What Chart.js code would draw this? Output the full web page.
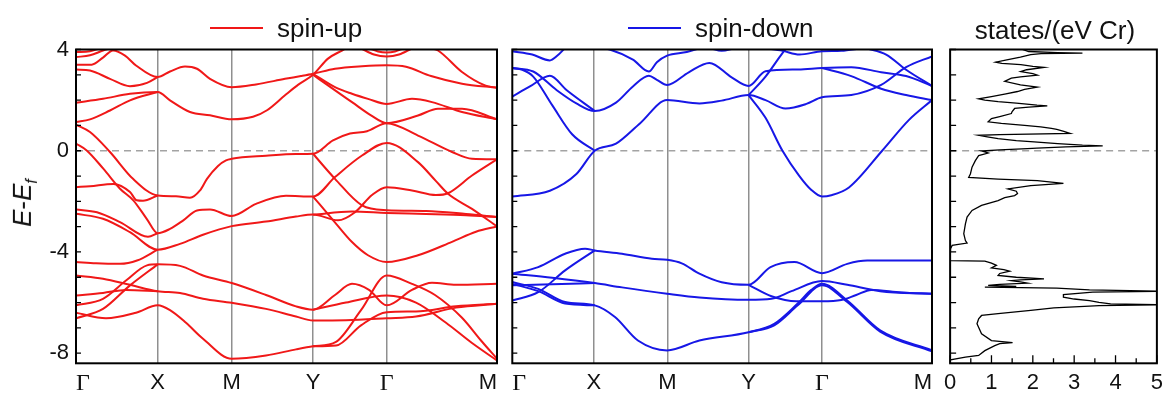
<!DOCTYPE html>
<html>
<head>
<meta charset="utf-8">
<script src="https://cdn.jsdelivr.net/npm/chart.js@4.4.1/dist/chart.umd.min.js"></script>
<style>
  body { margin: 0; background: #fff; width: 1169px; height: 395px; overflow: hidden; position: relative; font-family: 'Liberation Sans', Arial, sans-serif; color: #111; }
  canvas { position: absolute; top: 0; }
  .txt { position: absolute; white-space: nowrap; line-height: 1; font-size: 26px; }
  .key { position: absolute; height: 2px; width: 53px; }
  #ylab { position: absolute; left: 24px; top: 203px; transform: translate(-50%, -50%) rotate(-90deg); font-size: 26px; white-space: nowrap; }
  #ylab sub { font-size: 16px; font-style: italic; }
</style>
</head>
<body>
<canvas id="up" width="505" height="395" style="left:0px"></canvas>
<canvas id="down" width="433" height="395" style="left:505px"></canvas>
<canvas id="dos" width="231" height="395" style="left:938px"></canvas>

<div class="key" style="left:210px; top:27px; background:#f01818"></div>
<div class="txt" style="left:277px; top:15px">spin-up</div>
<div class="key" style="left:628px; top:27px; background:#1717e6"></div>
<div class="txt" style="left:695px; top:15px">spin-down</div>
<div class="txt" style="left:1055px; top:17px; transform:translateX(-50%)">states/(eV Cr)</div>
<div id="ylab"><i>E</i>-<i>E</i><sub>f</sub></div>

<script>
// k-path (distance along the path) and labels
const kTicks = [0, 0.817, 1.557, 2.37, 3.107, 4.21];
const kLabels = ['Γ', 'X', 'M', 'Y', 'Γ', 'M'];
const eMin = -8.4, eMax = 4;
const eLabelTicks = [-8, -4, 0, 4];
const dosTicks = [0, 1, 2, 3, 4, 5];

// spin-up bands, [k, E]
const upBands = [
  [[0,3.9],[0.14,3.93],[0.24,4.05]],
  [[0,3.7],[0.14,3.77],[0.27,3.96],[0.34,4.05]],
  [[0,3.4],[0.157,3.4],[0.27,3.68],[0.37,3.96],[0.49,3.76],[0.6,3.37],[0.817,2.91],[0.94,3.13],[1.09,3.33],[1.21,3.24],[1.34,2.84],[1.557,2.51],[1.8,2.62],[2.09,2.84],[2.25,2.95],[2.37,3.04],[2.59,3.24],[2.86,3.34],[3.107,3.38],[3.3,3.32],[3.55,2.95],[3.86,2.65],[4.21,2.49]],
  [[0,3.21],[0.14,3.17],[0.34,2.84],[0.54,2.55],[0.71,2.68],[0.817,2.91]],
  [[0,1.9],[0.27,2.05],[0.54,2.25],[0.817,2.32],[0.94,1.99],[1.14,1.53],[1.34,1.4],[1.557,1.24],[1.77,1.34],[1.91,1.6],[2.09,2.19],[2.22,2.6],[2.37,3.0],[2.52,3.64],[2.66,3.96],[2.72,4.1]],
  [[0,1.13],[0.14,1.24],[0.34,1.59],[0.54,1.99],[0.817,2.32]],
  [[2.37,3.04],[2.59,2.51],[2.76,2.25],[2.92,2.05],[3.107,1.85],[3.36,2.05],[3.56,1.92],[3.86,1.53],[4.21,1.24]],
  [[2.37,3.0],[2.52,2.58],[2.76,1.92],[2.95,1.4],[3.107,1.09],[3.42,1.39],[3.62,1.66],[3.86,1.66],[4.21,1.24]],
  [[2.85,4.05],[2.98,3.8],[3.107,3.72],[3.23,3.8],[3.36,4.05]],
  [[2.93,4.05],[3.02,3.92],[3.107,3.88],[3.19,3.92],[3.28,4.05]],
  [[3.55,4.05],[3.62,3.96],[3.86,3.11],[4.09,2.58],[4.21,2.49]],
  [[0,1.03],[0.14,0.74],[0.34,-0.05],[0.57,-1.11],[0.817,-1.77],[1.0,-1.8],[1.14,-1.86],[1.24,-1.57],[1.31,-1.11],[1.42,-0.6],[1.5,-0.38],[1.557,-0.32],[1.9,-0.2],[2.2,-0.13],[2.37,-0.12],[2.57,0.41],[2.74,0.68],[2.91,0.77],[3.107,1.09],[3.42,0.6],[3.76,-0.05],[3.96,-0.32],[4.21,-0.34]],
  [[0,0.28],[0.107,0.01],[0.273,-0.71],[0.44,-1.5],[0.573,-1.96],[0.707,-2.69],[0.817,-3.26],[0.94,-3.09],[1.07,-2.76],[1.21,-2.36],[1.34,-2.32],[1.557,-2.58],[1.8,-2.1],[2.1,-1.78],[2.37,-1.81],[2.59,-1.04],[2.86,-0.19],[3.107,0.31],[3.42,-0.45],[3.6,-1.2],[3.72,-1.7],[3.96,-2.3],[4.21,-2.99]],
  [[0,-1.44],[0.14,-1.4],[0.373,-1.31],[0.54,-1.63],[0.607,-1.96],[0.67,-1.98],[0.817,-1.77]],
  [[0,-2.32],[0.21,-2.43],[0.44,-2.82],[0.72,-3.4],[0.817,-3.26]],
  [[0,-2.49],[0.27,-2.69],[0.54,-3.22],[0.817,-3.91],[1.04,-3.68],[1.27,-3.32],[1.557,-2.98],[1.9,-2.8],[2.2,-2.6],[2.37,-2.52],[2.62,-2.75],[2.79,-2.43],[2.96,-1.75],[3.107,-1.44],[3.36,-1.57],[3.6,-1.75],[3.72,-1.68],[3.96,-0.98],[4.21,-0.34]],
  [[2.37,-0.12],[2.59,-1.11],[2.86,-2.16],[3.107,-2.35],[3.5,-2.38],[3.9,-2.5],[4.21,-2.62]],
  [[2.37,-2.53],[2.76,-2.4],[3.107,-2.46],[3.5,-2.5],[3.9,-2.55],[4.21,-2.62]],
  [[2.37,-1.81],[2.56,-2.69],[2.76,-3.61],[2.92,-4.13],[3.107,-4.4],[3.42,-4.13],[3.76,-3.6],[4.0,-3.2],[4.21,-2.99]],
  [[0,-4.4],[0.2,-4.45],[0.44,-4.47],[0.61,-4.34],[0.817,-3.91]],
  [[0,-4.93],[0.27,-5.06],[0.54,-5.3],[0.817,-5.55],[1.04,-5.62],[1.27,-5.85],[1.557,-6.01],[1.9,-6.25],[2.2,-6.55],[2.37,-6.71],[2.7,-6.7],[3.107,-6.62],[3.4,-6.55],[3.8,-6.2],[4.21,-6.05]],
  [[0,-5.72],[0.27,-5.62],[0.5,-5.5],[0.817,-5.55]],
  [[0,-6.11],[0.27,-5.85],[0.5,-5.13],[0.71,-4.53],[0.817,-4.49],[1.04,-4.55],[1.27,-4.93],[1.557,-5.23],[1.9,-5.7],[2.2,-6.15],[2.37,-6.28],[2.59,-5.7],[2.76,-5.26],[2.93,-5.5],[3.107,-6.11],[3.36,-5.5],[3.56,-5.22],[3.8,-5.3],[4.21,-5.26]],
  [[0,-6.62],[0.27,-6.25],[0.54,-5.32],[0.817,-4.49]],
  [[0,-6.4],[0.3,-6.62],[0.6,-6.4],[0.817,-6.11],[0.94,-6.3],[1.1,-6.8],[1.27,-7.43],[1.557,-8.22],[1.9,-8.09],[2.2,-7.85],[2.37,-7.73],[2.6,-7.55],[2.85,-6.3],[3.107,-4.93],[3.36,-5.26],[3.59,-5.7],[3.86,-6.6],[4.05,-7.5],[4.21,-8.22]],
  [[2.37,-6.28],[2.7,-6.0],[3.107,-5.72],[3.4,-6.0],[3.7,-6.8],[3.96,-7.6],[4.21,-8.29]],
  [[2.37,-7.73],[2.6,-7.7],[2.85,-6.9],[3.107,-6.38],[3.4,-6.35],[3.8,-6.15],[4.21,-6.05]]
];

// spin-down bands
const downBands = [
  [[0,-1.81],[0.377,-1.58],[0.643,-0.92],[0.827,0.0],[1.04,0.28],[1.28,1.08],[1.553,2.0],[1.877,1.87],[2.1,1.98],[2.37,2.2],[2.54,2.0],[2.74,1.67],[2.95,1.85],[3.107,2.11],[3.4,2.2],[3.7,2.6],[3.95,3.3],[4.21,3.73]],
  [[0,3.27],[0.1,3.2],[0.21,2.93],[0.4,1.8],[0.6,0.65],[0.827,0.0]],
  [[0,3.27],[0.21,3.13],[0.443,2.4],[0.643,1.87],[0.827,1.57],[1.04,1.9],[1.21,2.54],[1.37,2.96],[1.45,2.8],[1.553,2.6],[1.77,3.1],[1.977,3.47],[2.2,2.9],[2.37,2.56],[2.54,3.14],[2.87,3.21],[3.107,3.27],[3.4,3.3],[3.7,3.1],[3.95,2.95],[4.21,2.56]],
  [[0,2.14],[0.177,2.54],[0.377,2.96],[0.543,2.4],[0.827,1.57]],
  [[0,3.93],[0.2,3.8],[0.377,3.57],[0.45,3.75],[0.527,4.05]],
  [[0.9,4.05],[0.977,4.0],[1.21,3.6],[1.37,3.13],[1.45,3.5],[1.553,3.76],[1.75,3.9],[1.877,4.05]],
  [[1.99,4.05],[2.1,3.95],[2.23,4.05]],
  [[2.37,2.2],[2.54,2.93],[2.71,3.86],[2.76,4.1]],
  [[2.37,2.2],[2.54,1.3],[2.71,0.0],[2.88,-1.0],[3.0,-1.55],[3.107,-1.81],[3.2,-1.76],[3.377,-1.45],[3.71,0.0],[3.977,1.21],[4.21,2.0]],
  [[3.107,3.27],[3.4,2.95],[3.7,2.45],[3.95,2.2],[4.21,2.0]],
  [[3.55,4.05],[3.75,3.8],[3.95,3.2],[4.21,2.56]],
  [[2.54,4.05],[2.71,3.95],[2.88,3.8],[3.107,3.93],[3.3,3.95],[3.5,4.05]],
  [[0,-4.86],[0.26,-4.6],[0.53,-4.07],[0.73,-3.87],[0.827,-3.94],[1.1,-4.07],[1.4,-4.27],[1.553,-4.31],[1.7,-4.45],[1.877,-4.86],[2.1,-5.2],[2.37,-5.3],[2.59,-4.6],[2.83,-4.4],[3.107,-4.84],[3.36,-4.47],[3.56,-4.34],[4.21,-4.34]],
  [[0,-5.92],[0.26,-5.59],[0.53,-4.73],[0.827,-3.94]],
  [[0,-4.86],[0.4,-5.02],[0.827,-5.23],[1.1,-5.4],[1.553,-5.65],[1.877,-5.8],[2.37,-5.89],[2.6,-5.85],[2.8,-5.55],[3.107,-5.15],[3.36,-5.3],[3.69,-5.55],[4.21,-5.65]],
  [[2.37,-5.3],[2.6,-5.75],[2.85,-5.95],[3.107,-5.95],[3.3,-5.9],[3.45,-5.7],[3.6,-5.5],[3.9,-5.6],[4.21,-5.65]],
  [[0,-5.32],[0.4,-5.28],[0.827,-5.23]],
  [[0,-5.19],[0.26,-5.46],[0.53,-5.98],[0.827,-6.11],[1.03,-6.57],[1.26,-7.5],[1.553,-7.89],[1.877,-7.5],[2.37,-7.17],[2.627,-6.84],[2.86,-6.05],[3.0,-5.5],[3.107,-5.26],[3.36,-5.92],[3.69,-7.1],[4.21,-7.89]],
  [[0,-5.26],[0.26,-5.55],[0.53,-6.04],[0.827,-6.11]],
  [[2.37,-7.17],[2.627,-6.9],[2.86,-6.12],[3.107,-5.32],[3.36,-5.98],[3.69,-7.15],[4.21,-7.93]]
];

// density of states, E and states/(eV Cr)
const dosE = [4.0,3.92,3.88,3.86,3.84,3.8,3.7,3.6,3.5,3.45,3.4,3.33,3.29,3.2,3.13,3.05,2.99,2.92,2.87,2.74,2.6,2.51,2.42,2.34,2.25,2.14,2.05,2.0,1.94,1.88,1.85,1.8,1.77,1.72,1.67,1.55,1.47,1.35,1.27,1.14,1.08,1.0,0.94,0.88,0.84,0.76,0.68,0.64,0.61,0.55,0.48,0.4,0.35,0.28,0.22,0.19,0.15,0.1,0.08,0.03,-0.01,-0.09,-0.19,-0.39,-0.65,-0.92,-1.05,-1.12,-1.18,-1.29,-1.38,-1.51,-1.6,-1.69,-1.77,-1.85,-1.97,-2.16,-2.36,-2.62,-2.89,-3.28,-3.55,-3.65,-3.7,-3.74,-3.87,-4.0,-4.34,-4.36,-4.44,-4.53,-4.63,-4.7,-4.76,-4.85,-4.93,-5.0,-5.06,-5.1,-5.13,-5.18,-5.23,-5.28,-5.32,-5.36,-5.39,-5.43,-5.5,-5.55,-5.59,-5.69,-5.79,-5.86,-5.92,-5.99,-6.05,-6.09,-6.12,-6.15,-6.21,-6.31,-6.44,-6.51,-6.64,-6.84,-7.23,-7.5,-7.58,-7.62,-7.7,-7.9,-8.09,-8.16,-8.26,-8.4];
const dosVal = [1.75,1.9,2.6,3.2,2.2,1.95,1.7,1.4,1.1,1.25,1.71,2.0,2.27,1.85,1.71,2.0,2.11,1.7,1.48,1.32,1.7,2.11,1.8,1.63,1.35,1.0,0.69,0.84,1.16,1.6,1.79,2.1,2.35,1.9,1.56,1.5,1.48,1.2,1.0,0.92,1.24,1.8,2.19,2.45,2.58,2.75,2.9,1.2,0.69,0.9,1.16,1.6,2.03,2.6,3.2,3.69,2.8,2.1,1.87,1.2,0.76,0.92,0.69,0.61,0.53,0.49,0.45,1.16,2.11,2.74,1.95,1.4,1.6,1.63,1.56,1.32,1.16,0.76,0.53,0.41,0.37,0.33,0.37,0.41,0.2,0.05,0.01,0.0,0.0,0.84,1.0,1.12,1.0,1.3,1.44,1.2,1.16,1.6,2.27,1.7,1.48,1.7,1.87,1.2,0.92,1.6,0.84,2.58,3.37,5.2,3.45,2.74,2.74,3.0,3.37,3.6,3.88,5.2,3.6,3.25,2.51,1.95,1.16,0.76,0.69,0.65,0.76,1.0,1.51,1.2,1.08,0.84,0.69,0.37,0.01,0.0];

// zero line, inward ticks and the frame
const extras = {
  id: 'extras',
  beforeDatasetsDraw(chart) {
    const { ctx, chartArea: a, scales } = chart;
    const y0 = scales.y.getPixelForValue(0);
    ctx.save();
    ctx.strokeStyle = '#a3a3a3';
    ctx.lineWidth = 1.5;
    ctx.setLineDash([7, 5]);
    ctx.beginPath(); ctx.moveTo(a.left, y0); ctx.lineTo(a.right, y0); ctx.stroke();
    ctx.restore();
  },
  afterDraw(chart, args, opts) {
    const { ctx, chartArea: a, scales } = chart;
    ctx.save();
    ctx.strokeStyle = '#000';
    ctx.lineWidth = 1.3;
    ctx.beginPath();
    for (let e = Math.ceil(eMin); e <= eMax; e++) {
      const py = scales.y.getPixelForValue(e);
      ctx.moveTo(a.left, py); ctx.lineTo(a.left + (opts.yTick || 5), py);
    }
    if (opts.xMinor) {
      for (let v = 0; v <= 5; v += 0.5) {
        const px = scales.x.getPixelForValue(v);
        ctx.moveTo(px, a.bottom); ctx.lineTo(px, a.bottom - (v % 1 === 0 ? 8 : 5));
      }
    }
    ctx.stroke();
    ctx.lineWidth = 2;
    ctx.strokeRect(a.left, a.top, a.right - a.left, a.bottom - a.top);
    ctx.restore();
  }
};

const tickFont = { family: "'Liberation Sans', Arial, sans-serif", size: 22 };

function yScale(width, showLabels) {
  return {
    type: 'linear', min: eMin, max: eMax,
    afterBuildTicks: s => { s.ticks = eLabelTicks.map(v => ({ value: v })); },
    afterFit: s => { s.width = width; },
    grid: { display: false, drawTicks: false },
    border: { display: false },
    ticks: { display: showLabels, padding: 7, color: '#111', font: tickFont }
  };
}

function bandChart(id, bands, color, yWidth, padRight, showY) {
  const datasets = bands.map(b => ({
    data: b.map(p => ({ x: p[0], y: p[1] })),
    borderColor: color, borderWidth: 2, pointRadius: 0,
    showLine: true, cubicInterpolationMode: 'monotone'
  }));
  return new Chart(document.getElementById(id), {
    type: 'scatter',
    data: { datasets },
    plugins: [extras],
    options: {
      responsive: false, animation: false, events: [],
      layout: { padding: { top: 49.5, right: padRight, left: 0, bottom: 0 } },
      plugins: { legend: { display: false }, tooltip: { enabled: false }, extras: { yTick: 5 } },
      scales: {
        x: {
          type: 'linear', min: 0, max: kTicks[kTicks.length - 1],
          afterBuildTicks: s => { s.ticks = kTicks.map(v => ({ value: v })); },
          afterFit: s => { s.height = 31.7; },
          border: { display: false },
          grid: {
            drawTicks: false, lineWidth: 1.5,
            color: c => (c.index === 0 || c.index === kTicks.length - 1) ? 'rgba(0,0,0,0)' : '#8f8f8f'
          },
          ticks: {
            align: 'inner', padding: 6, color: '#111', autoSkip: false, maxRotation: 0,
            callback: (v, i) => kLabels[i],
            font: c => kLabels[c.index] === 'Γ'
              ? { family: "'Liberation Serif', 'Times New Roman', serif", size: 24 }
              : tickFont
          }
        },
        y: yScale(yWidth, showY)
      }
    }
  });
}

bandChart('up', upBands, '#f01818', 76, 8, true);
bandChart('down', downBands, '#1717e6', 7.3, 4.7, false);

new Chart(document.getElementById('dos'), {
  type: 'scatter',
  data: {
    datasets: [{
      data: dosE.map((e, i) => ({ x: dosVal[i], y: e })),
      borderColor: '#000', borderWidth: 1.3, pointRadius: 0, showLine: true, tension: 0
    }]
  },
  plugins: [extras],
  options: {
    responsive: false, animation: false, events: [],
    layout: { padding: { top: 49.5, right: 10.3, left: 0, bottom: 0 } },
    plugins: { legend: { display: false }, tooltip: { enabled: false }, extras: { yTick: 6, xMinor: true } },
    scales: {
      x: {
        type: 'linear', min: 0, max: 5,
        afterBuildTicks: s => { s.ticks = dosTicks.map(v => ({ value: v })); },
        afterFit: s => { s.height = 31.7; },
        border: { display: false },
        grid: { display: false, drawTicks: false },
        ticks: { padding: 6, color: '#111', font: tickFont }
      },
      y: yScale(9.5, false)
    }
  }
});
</script>
</body>
</html>
